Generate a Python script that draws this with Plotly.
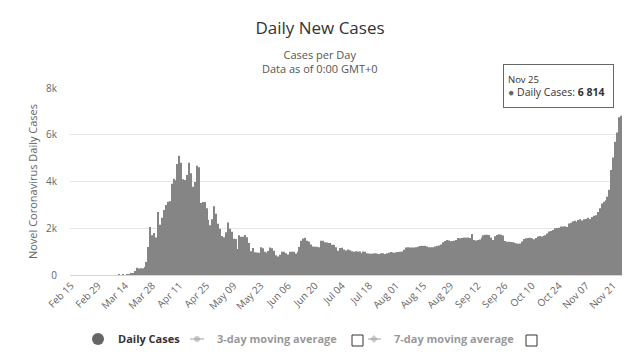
import pandas as pd
import plotly.graph_objects as go

# ---- data (daily new cases) ----
feb = [0] * 15  # Feb 15 - Feb 29
mar = [0, 0, 0, 0, 0, 0, 0, 0, 0, 0,
       1, 0, 5, 0, 12, 30, 50, 90, 170, 310, 280, 290, 290, 340, 560,
       1200, 2050, 1700, 1800, 1600, 2700]
apr = [2150, 2450, 2780, 3000, 3130, 3150, 3900, 4120, 4050, 4750,
       5100, 4800, 4100, 4060, 4280, 4800, 4350, 3780, 3980, 4670,
       4610, 3080, 3120, 3120, 2860, 2360, 2130, 2390, 2940, 2620]
may = [2190, 1980, 1670, 1610, 1830, 2250, 1980, 1850, 1550, 1540,
       1110, 1700, 1640, 1640, 1710, 1610, 1370, 1020, 1160, 970,
       960, 950, 1190, 1140, 990, 950, 1030, 1180, 1140, 1040, 840]
jun = [790, 870, 990, 990, 930, 880, 990, 1000, 990, 920,
       990, 1200, 1460, 1560, 1590, 1470, 1430, 1300, 1220, 1210,
       1210, 1190, 1460, 1460, 1400, 1390, 1370, 1370, 1290, 1290]
jul = [1190, 1040, 1150, 1170, 1090, 1050, 1090, 1060, 1020, 1000,
       1020, 1010, 1010, 930, 1010, 990, 930, 920, 910, 920,
       930, 920, 900, 930, 930, 900, 930, 950, 980, 970, 950]
aug = [970, 980, 990, 1010, 1080, 1180, 1190, 1180, 1180, 1180,
       1190, 1210, 1240, 1250, 1240, 1250, 1220, 1190, 1190, 1190,
       1220, 1240, 1260, 1310, 1400, 1450, 1500, 1480, 1440, 1450, 1460]
sep = [1500, 1580, 1570, 1580, 1600, 1590, 1600, 1580, 1750, 1500,
       1480, 1500, 1520, 1600, 1700, 1720, 1720, 1710, 1600, 1500,
       1660, 1710, 1740, 1720, 1690, 1450, 1420, 1420, 1410, 1400]
octo = [1380, 1360, 1340, 1350, 1430, 1540, 1570, 1580, 1590, 1570,
        1530, 1580, 1650, 1670, 1650, 1680, 1700, 1780, 1860, 1880,
        1920, 2000, 2010, 2020, 2070, 2080, 2090, 2050, 2200, 2230, 2300]
nov = [2320, 2280, 2350, 2380, 2330, 2390, 2400, 2450, 2400, 2480,
       2530, 2560, 2700, 2860, 3060, 3130, 3200, 3350, 3650, 4490,
       5030, 5700, 6100, 6750, 6814]

daily_cases = feb + mar + apr + may + jun + jul + aug + sep + octo + nov
dates = pd.date_range("2020-02-15", "2020-11-25", freq="D")
assert len(dates) == len(daily_cases)

y_tick_vals = [0, 2000, 4000, 6000, 8000]
y_tick_text = ["0", "2k", "4k", "6k", "8k"]

# ---- layout helpers (pixel -> paper) ----
W, H = 640, 361
ML, MR, MT, MB = 70, 18, 88, 86
PW, PH = W - ML - MR, H - MT - MB


def px(x):
    return (x - ML) / PW


def py(y):
    return (H - MB - y) / PH


FONT = "Open Sans"
LEG_Y = 339

fig = go.Figure()
fig.add_trace(go.Bar(
    x=dates, y=daily_cases, name="Daily Cases",
    marker=dict(color="#858585", line=dict(width=0)),
    showlegend=False,
))
# legend entries
fig.add_trace(go.Scatter(
    x=[None], y=[None], mode="markers", name="<b>Daily Cases</b>",
    marker=dict(color="#666666", size=12, symbol="circle"),
    legend="legend",
))
fig.add_trace(go.Scatter(
    x=[None], y=[None], mode="markers", name="<b>3-day moving average</b>",
    marker=dict(color="#999999", size=6, symbol="circle"),
    visible="legendonly", legend="legend2",
))
fig.add_trace(go.Scatter(
    x=[None], y=[None], mode="markers", name="<b>7-day moving average</b>",
    marker=dict(color="#999999", size=6, symbol="diamond"),
    visible="legendonly", legend="legend3",
))

leg_common = dict(orientation="h", yanchor="middle", xanchor="left",
                  bgcolor="rgba(0,0,0,0)", font=dict(family=FONT, size=11, color="#333333"),
                  itemclick=False, itemdoubleclick=False)

shapes = []
# checkboxes
for x0, x1 in [(352, 363), (526, 537)]:
    shapes.append(dict(type="rect", xref="paper", yref="paper", x0=px(x0), x1=px(x1),
                       y0=py(346), y1=py(335), line=dict(color="#333333", width=1)))
# short line parts of the moving-average legend symbols
for x0, x1 in [(190, 204), (368, 381)]:
    shapes.append(dict(type="line", xref="paper", yref="paper", x0=px(x0), x1=px(x1),
                       y0=py(LEG_Y), y1=py(LEG_Y), line=dict(color="#d0d0d0", width=2)))

fig.update_layout(
    width=W, height=H,
    margin=dict(l=ML, r=MR, t=MT, b=MB, autoexpand=False),
    paper_bgcolor="white", plot_bgcolor="white",
    bargap=0.45,
    font=dict(family=FONT, color="#666666"),
    title=dict(text="Daily New Cases", x=0.5, xref="container", xanchor="center",
               y=1 - 28 / H, yanchor="middle",
               font=dict(family=FONT, size=17, color="#333333")),
    xaxis=dict(
        type="date",
        range=["2020-02-14 12:00", "2020-11-25 12:00"],
        tick0="2020-02-15", dtick=14 * 86400000, tickformat="%b %d",
        tickangle=-45, tickfont=dict(size=10, color="#666666"),
        showgrid=False, showline=True, linecolor="#ccd6eb", linewidth=1,
        zeroline=False, ticks="", automargin=False,
    ),
    yaxis=dict(
        range=[0, 8000], tickvals=y_tick_vals, ticktext=y_tick_text,
        tickfont=dict(size=10, color="#666666"),
        gridcolor="#e6e6e6", zeroline=False, showline=False, ticks="",
        ticklabelstandoff=12, automargin=False,
        title=dict(text="Novel Coronavirus Daily Cases", standoff=6,
                   font=dict(size=11, color="#666666")),
    ),
    legend=dict(x=px(78), y=py(LEG_Y), **leg_common),
    legend2=dict(x=px(177), y=py(LEG_Y), **leg_common),
    legend3=dict(x=px(354), y=py(LEG_Y), **leg_common),
    annotations=[
        dict(text="Cases per Day<br>Data as of 0:00 GMT+0", xref="paper", yref="paper",
             x=px(320), y=py(61), xanchor="center", yanchor="middle", showarrow=False,
             font=dict(family=FONT, size=11, color="#555555")),
        dict(text="<span style='font-size:9.5px'>Nov 25</span><br>"
                  "<span style='color:#666666'>●</span> Daily Cases: <b>6 814</b>",
             xref="paper", yref="paper", x=px(614), y=py(64), xanchor="right", yanchor="top",
             align="left", valign="middle", width=101, height=34,
             showarrow=False, bgcolor="rgba(255,255,255,0.95)",
             bordercolor="#666666", borderwidth=1, borderpad=4,
             font=dict(family=FONT, size=10.5, color="#333333")),
    ],
    shapes=shapes,
)

fig.write_html("out.html", config={"displayModeBar": False},
               post_script="document.body.style.margin='0';")
